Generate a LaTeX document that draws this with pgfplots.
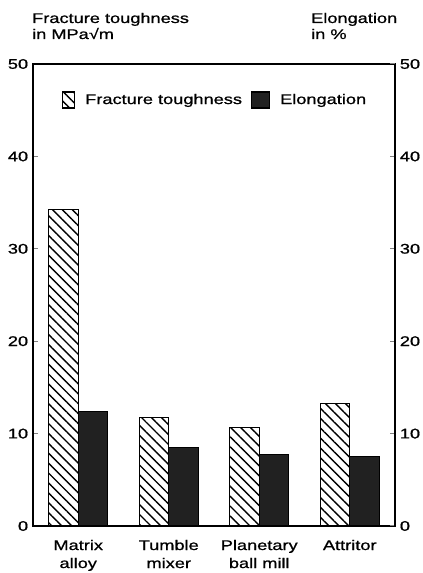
\documentclass[border=0pt]{standalone}
\usepackage{pgfplots}
\pgfplotsset{compat=1.18}
\usepackage{fontspec}
\setmainfont{Liberation Sans}[FakeStretch=1.3, FakeBold=0.9]
\usetikzlibrary{patterns.meta}

\pgfplotstableread{
x frac elong
0 34.3 12.4
1 11.7 8.45
2 10.7 7.7
3 13.3 7.5
}\datatable

\pgfplotsset{
  hatchleg/.style={legend image code/.code={\draw[##1] (0bp,-8bp) rectangle (12bp,8bp);}},
  darkleg/.style={legend image code/.code={\draw[##1] (0bp,-8bp) rectangle (18bp,8bp);}},
}

\begin{document}
\begin{tikzpicture}[x=1bp,y=1bp]
\useasboundingbox (0,0) rectangle (422,573);
\fontsize{14bp}{18bp}\selectfont
\node[anchor=base west, inner sep=0] at (32,550) {Fracture toughness};
\node[anchor=base west, inner sep=0] at (32,534) {in MPa√m};
\node[anchor=base west, inner sep=0] at (311,550) {Elongation};
\node[anchor=base west, inner sep=0] at (311,534) {in \%};
\begin{axis}[
  at={(33bp,47bp)}, anchor=south west,
  scale only axis, width=362bp, height=462bp,
  xmin=-0.5, xmax=3.5, ymin=0, ymax=50,
  axis line style={line width=1.2bp},
  font=\fontsize{14bp}{18bp}\selectfont,
  /pgf/number format/assume math mode=true,
  xtick={0,1,2,3},
  xticklabels={Matrix\\alloy, Tumble\\mixer, Planetary\\ball mill, Attritor},
  xticklabel style={align=center, yshift=-4bp},
  xtick style={draw=none},
  ytick={0,10,...,50},
  ytick pos=left,
  tick align=inside,
  major tick length=5bp,
  ytick style={line width=1bp},
  ybar, bar width=0.325,
  legend columns=2,
  legend style={draw=none, fill=none, at={(0.080,0.922)}, anchor=west,
    inner sep=0pt, font=\fontsize{14bp}{18bp}\selectfont,
    /tikz/every odd column/.append style={column sep=9bp},
    /tikz/every even column/.append style={column sep=8bp},
    nodes={inner sep=1bp}},
]
\addplot[draw=black, line width=1.1bp, bar shift=-0.1625,
  pattern={Lines[angle=-45, distance=7bp, line width=1.4bp]}, hatchleg]
  table[x=x, y=frac] {\datatable};
\addlegendentry{Fracture toughness}
\addplot[draw=black, line width=1.1bp, fill=black!87, bar shift=0.1625, darkleg]
  table[x=x, y=elong] {\datatable};
\addlegendentry{Elongation}
\end{axis}
\begin{axis}[
  at={(33bp,47bp)}, anchor=south west,
  scale only axis, width=362bp, height=462bp,
  xmin=-0.5, xmax=3.5, ymin=0, ymax=50,
  axis x line=none, axis y line*=right,
  axis line style={line width=1.2bp},
  font=\fontsize{14bp}{18bp}\selectfont,
  /pgf/number format/assume math mode=true,
  ytick={0,10,...,50},
  tick align=inside,
  major tick length=5bp,
  ytick style={line width=1bp},
]
\end{axis}
\end{tikzpicture}
\end{document}
